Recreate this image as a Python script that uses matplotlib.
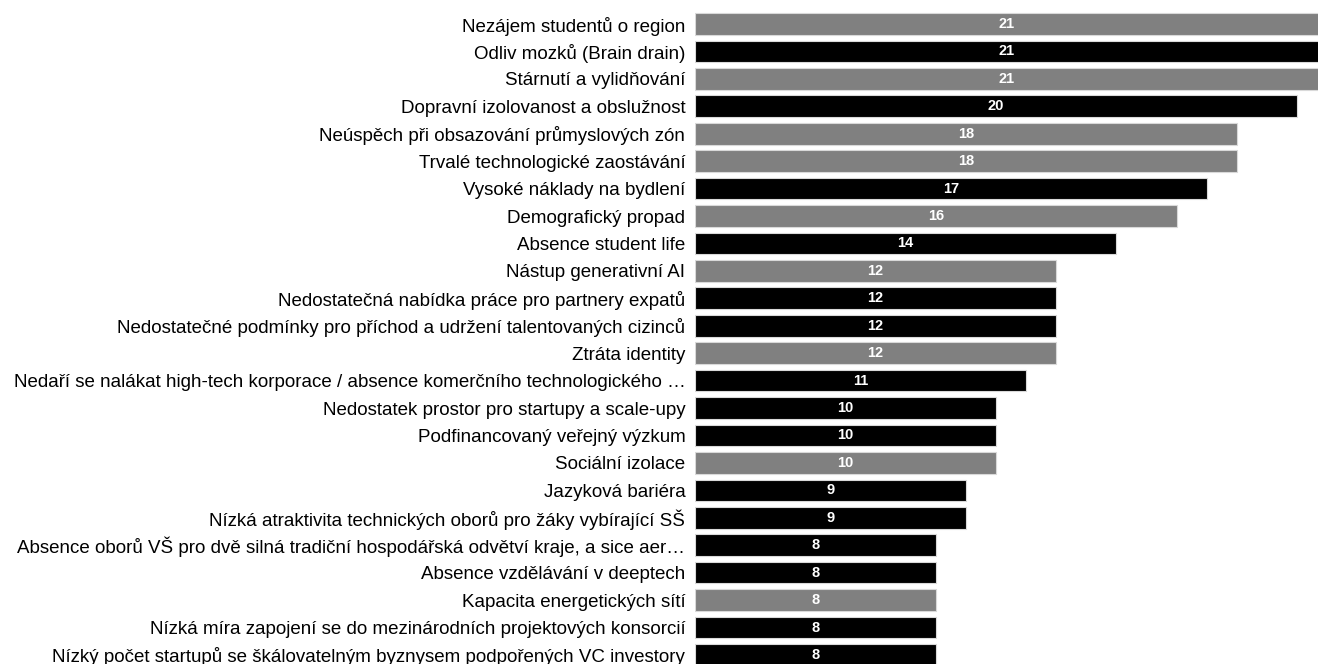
import numpy as np
import matplotlib.pyplot as plt

plt.rcParams['font.family'] = ['Liberation Sans', 'DejaVu Sans']

labels = [
    "Nezájem studentů o region",
    "Odliv mozků (Brain drain)",
    "Stárnutí a vylidňování",
    "Dopravní izolovanost a obslužnost",
    "Neúspěch při obsazování průmyslových zón",
    "Trvalé technologické zaostávání",
    "Vysoké náklady na bydlení",
    "Demografický propad",
    "Absence student life",
    "Nástup generativní AI",
    "Nedostatečná nabídka práce pro partnery expatů",
    "Nedostatečné podmínky pro příchod a udržení talentovaných cizinců",
    "Ztráta identity",
    "Nedaří se nalákat high-tech korporace / absence komerčního technologického …",
    "Nedostatek prostor pro startupy a scale-upy",
    "Podfinancovaný veřejný výzkum",
    "Sociální izolace",
    "Jazyková bariéra",
    "Nízká atraktivita technických oborů pro žáky vybírající SŠ",
    "Absence oborů VŠ pro dvě silná tradiční hospodářská odvětví kraje, a sice aer…",
    "Absence vzdělávání v deeptech",
    "Kapacita energetických sítí",
    "Nízká míra zapojení se do mezinárodních projektových konsorcií",
    "Nízký počet startupů se škálovatelným byznysem podpořených VC investory",
]
values = [21, 21, 21, 20, 18, 18, 17, 16, 14, 12, 12, 12, 12, 11, 10, 10, 10, 9, 9, 8, 8, 8, 8, 8]
groups = ["g", "b", "g", "b", "g", "g", "b", "g", "b", "g", "b", "b", "g",
          "b", "b", "b", "g", "b", "b", "b", "b", "g", "b", "b"]

colors = {"g": "#808080", "b": "#000000"}
xmax = 20.7

fig = plt.figure(figsize=(13.18, 6.64), dpi=100)
ax = fig.add_axes([0.5273, -0.007, 0.4727, 0.9915])

y = np.arange(len(labels))
ax.barh(y, values, height=0.79, color=[colors[g] for g in groups],
        edgecolor="#d9d9d9", linewidth=0.8)

for yi, v in zip(y, values):
    ax.text(min(v, xmax) / 2, yi, str(v), ha="center", va="center",
            color="white", fontsize=10.5, fontweight="bold")

ax.set_xlim(0, xmax)
ax.set_ylim(len(labels) - 0.5, -0.5)
ax.set_yticks(y)
ax.set_yticklabels(labels, fontsize=13.5)
ax.tick_params(axis="y", length=0, pad=7)
ax.set_xticks([])
for s in ax.spines.values():
    s.set_visible(False)

fig.savefig("out.png", dpi=100)
